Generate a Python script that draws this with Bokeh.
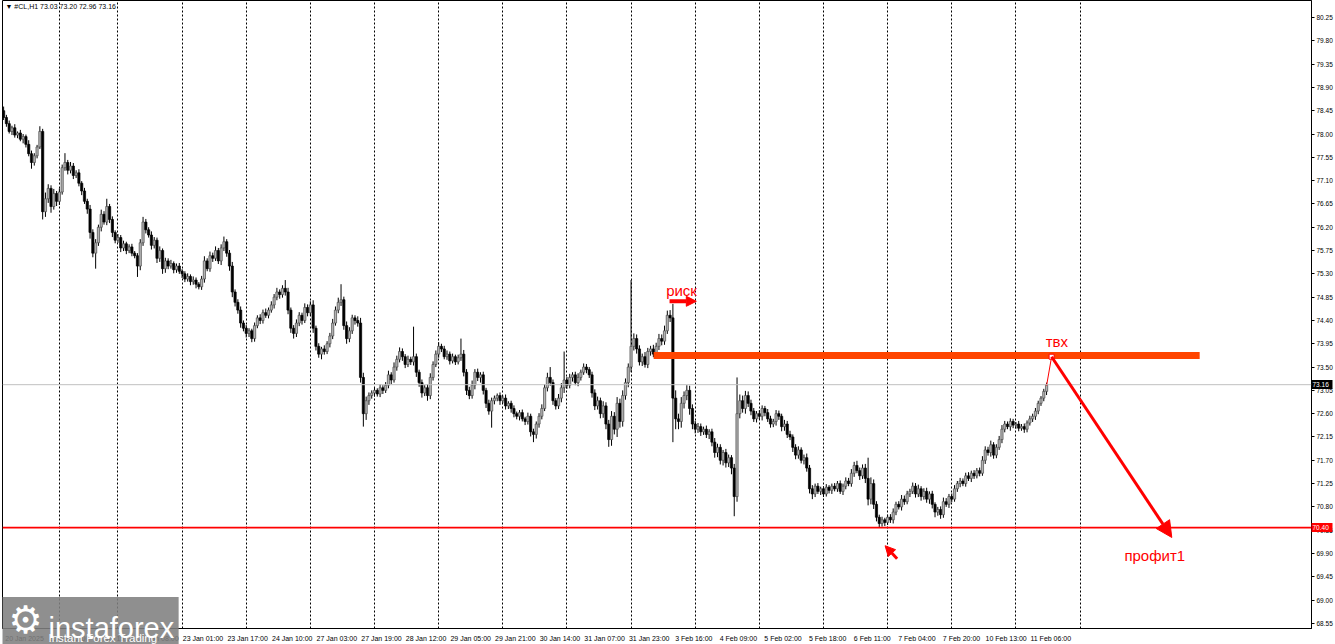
import numpy as np
from bokeh.plotting import figure
from bokeh.layouts import column
from bokeh.models import (ColumnDataSource, FixedTicker, Label, Arrow, NormalHead,
                          NumeralTickFormatter, Range1d, Span)
from bokeh.embed import file_html
from bokeh.resources import INLINE

# ---------------- data (H1 bars of #CL) ----------------
first_open = 78.45
closes = [
    78.32, 78.20, 78.05, 78.12, 77.98, 78.02, 77.90, 77.95, 77.80, 77.62, 77.45, 77.58, 77.75, 78.05, 76.50, 76.75, 76.95, 76.60, 76.85, 76.70, 76.88, 77.35, 77.45, 77.30, 77.38,
    77.20, 77.25, 77.05, 76.90, 76.70, 76.55, 76.10, 75.70, 75.90, 76.20, 76.45, 76.30, 76.60, 76.35, 76.10, 75.95, 76.00, 75.80, 75.88, 75.75, 75.82, 75.70, 75.65, 75.45, 75.90,
    76.30, 76.15, 76.05, 75.85, 75.95, 75.60, 75.75, 75.40, 75.55, 75.45, 75.50, 75.38, 75.45, 75.35, 75.30, 75.20, 75.25, 75.15, 75.18, 75.10, 75.05, 75.20, 75.55, 75.40, 75.65,
    75.60, 75.75, 75.55, 75.80, 75.92, 75.70, 75.45, 74.95, 74.75, 74.60, 74.35, 74.25, 74.15, 74.20, 74.05, 74.30, 74.45, 74.40, 74.55, 74.50, 74.60, 74.70, 74.85, 74.95, 74.90,
    75.02, 74.95, 74.60, 74.25, 74.15, 74.35, 74.50, 74.40, 74.65, 74.55, 74.70, 74.25, 73.90, 73.75, 73.85, 73.80, 73.95, 74.10, 74.35, 74.60, 74.75, 74.80, 74.30, 74.05, 74.20,
    74.45, 74.40, 74.35, 73.30, 72.60, 72.85, 72.95, 73.00, 73.05, 72.98, 73.10, 73.05, 73.15, 73.35, 73.25, 73.50, 73.65, 73.80, 73.70, 73.55, 73.65, 73.60, 73.70, 73.40, 73.20,
    73.00, 73.10, 72.95, 73.30, 73.55, 73.75, 73.90, 73.85, 73.70, 73.75, 73.62, 73.70, 73.60, 73.68, 73.75, 73.40, 73.05, 72.95, 73.15, 73.40, 73.30, 73.35, 73.05, 72.80, 72.65,
    72.85, 72.90, 72.95, 72.85, 72.90, 72.75, 72.80, 72.70, 72.60, 72.55, 72.62, 72.50, 72.45, 72.55, 72.25, 72.20, 72.40, 72.55, 72.70, 73.10, 73.30, 73.20, 72.85, 72.75, 72.90,
    73.10, 73.25, 73.15, 73.30, 73.35, 73.20, 73.30, 73.40, 73.50, 73.45, 73.35, 73.00, 72.75, 72.85, 72.60, 72.75, 72.40, 72.10, 72.55, 72.30, 72.80, 72.45, 72.95, 73.20, 73.50,
    73.90, 74.05, 73.85, 73.60, 73.70, 73.55, 73.80, 73.85, 73.75, 73.90, 74.05, 74.00, 74.20, 74.50, 74.45, 72.90, 72.50, 72.45, 72.80, 72.95, 73.05, 72.70, 72.40, 72.30, 72.35,
    72.25, 72.30, 72.20, 72.25, 72.05, 71.85, 71.95, 71.70, 71.85, 71.65, 71.75, 71.55, 71.00, 72.60, 72.85, 72.70, 72.95, 72.80, 72.65, 72.50, 72.60, 72.55, 72.70, 72.62, 72.50,
    72.40, 72.45, 72.60, 72.55, 72.35, 72.40, 72.20, 72.15, 71.95, 71.80, 71.90, 71.70, 71.75, 71.55, 71.15, 71.05, 71.20, 71.10, 71.15, 71.05, 71.18, 71.12, 71.20, 71.15, 71.25,
    71.10, 71.20, 71.30, 71.25, 71.45, 71.60, 71.50, 71.40, 71.55, 71.35, 70.95, 71.25, 70.85, 70.60, 70.48, 70.55, 70.50, 70.60, 70.55, 70.70, 70.85, 70.80, 70.95, 70.90, 71.05,
    71.10, 71.20, 71.05, 71.15, 71.00, 71.10, 70.95, 71.05, 70.85, 70.70, 70.75, 70.65, 70.90, 70.85, 71.00, 70.95, 71.15, 71.25, 71.30, 71.25, 71.40, 71.35, 71.45, 71.40, 71.50,
    71.45, 71.70, 71.90, 71.85, 72.00, 71.80, 71.95, 72.10, 72.30, 72.40, 72.35, 72.45, 72.38, 72.40, 72.32, 72.35, 72.30, 72.42, 72.50, 72.55, 72.65, 72.80, 72.90, 73.03, 73.16,
]
# wick lengths above / below the body, in cents
upper_wick_cents = [
    8, 5, 6, 4, 7, 3, 6, 5, 4, 8, 6, 5, 4, 10, 5, 12, 8, 6, 9, 5, 7, 6, 18, 5, 8,
    6, 5, 7, 4, 6, 5, 8, 6, 7, 5, 9, 6, 15, 5, 6, 4, 7, 5, 6, 4, 5, 6, 4, 5, 7,
    10, 6, 5, 7, 6, 5, 8, 4, 6, 5, 7, 4, 5, 6, 4, 5, 6, 4, 7, 5, 4, 6, 9, 5, 8,
    6, 8, 5, 7, 10, 5, 6, 8, 5, 6, 7, 5, 6, 5, 4, 6, 5, 7, 6, 8, 5, 7, 6, 8, 5,
    6, 16, 8, 5, 6, 7, 6, 5, 8, 6, 7, 9, 5, 6, 4, 7, 5, 6, 8, 7, 9, 30, 6, 8, 7,
    6, 5, 8, 10, 9, 8, 6, 5, 6, 4, 7, 5, 6, 8, 5, 9, 7, 8, 6, 5, 7, 5, 58, 6, 5,
    6, 5, 7, 8, 6, 7, 8, 5, 6, 7, 5, 6, 4, 6, 30, 8, 6, 7, 9, 6, 7, 5, 6, 5, 7,
    6, 5, 4, 6, 5, 7, 4, 5, 6, 4, 5, 6, 4, 7, 5, 6, 5, 6, 8, 7, 9, 20, 6, 5, 8,
    9, 55, 6, 7, 5, 6, 8, 5, 7, 6, 5, 6, 7, 8, 6, 9, 7, 8, 10, 8, 12, 9, 10, 8, 7,
    128, 10, 8, 7, 6, 9, 7, 6, 8, 7, 9, 8, 10, 9, 10, 27, 15, 10, 12, 8, 10, 9, 8, 6, 7,
    6, 5, 7, 5, 6, 8, 7, 6, 5, 7, 6, 5, 8, 70, 12, 10, 9, 8, 7, 6, 5, 7, 6, 5, 7,
    6, 5, 7, 6, 5, 8, 6, 7, 5, 6, 7, 5, 6, 8, 6, 7, 5, 6, 4, 5, 6, 4, 5, 6, 5,
    6, 5, 7, 6, 8, 7, 9, 6, 7, 8, 40, 12, 8, 6, 5, 6, 4, 5, 6, 7, 5, 6, 8, 7, 6,
    5, 7, 6, 8, 5, 6, 7, 5, 6, 4, 5, 6, 8, 7, 5, 6, 7, 5, 6, 5, 6, 7, 5, 6, 5,
    6, 8, 7, 6, 8, 5, 6, 7, 8, 6, 5, 6, 5, 4, 6, 5, 6, 5, 6, 5, 6, 5, 4, 5, 4,
]
lower_wick_cents = [
    5, 6, 4, 7, 5, 6, 4, 8, 6, 5, 12, 6, 5, 4, 15, 10, 8, 12, 6, 9, 7, 5, 6, 8, 6,
    7, 5, 6, 8, 5, 9, 12, 8, 30, 6, 8, 5, 6, 7, 9, 6, 5, 8, 6, 7, 5, 6, 5, 21, 8,
    6, 7, 5, 8, 6, 9, 7, 10, 8, 6, 5, 7, 6, 5, 8, 6, 5, 7, 6, 8, 5, 6, 7, 5, 6,
    7, 5, 6, 8, 6, 7, 9, 10, 8, 7, 9, 6, 8, 7, 7, 6, 5, 7, 6, 5, 6, 5, 7, 6, 8,
    6, 7, 8, 9, 10, 7, 6, 8, 5, 7, 6, 9, 8, 7, 10, 6, 5, 7, 6, 5, 6, 7, 8, 10, 7,
    6, 8, 7, 10, 25, 12, 8, 6, 7, 5, 6, 7, 5, 6, 8, 5, 7, 6, 8, 7, 5, 6, 7, 9, 8,
    9, 6, 10, 7, 6, 5, 7, 6, 5, 6, 7, 5, 6, 5, 6, 8, 9, 7, 6, 8, 7, 10, 8, 9, 7,
    32, 7, 6, 8, 5, 7, 6, 8, 7, 6, 8, 5, 7, 6, 9, 15, 8, 7, 6, 5, 7, 6, 8, 7, 6,
    8, 10, 7, 6, 8, 5, 7, 6, 5, 7, 6, 9, 8, 7, 9, 8, 10, 14, 12, 10, 15, 12, 10, 8, 9,
    10, 8, 9, 7, 8, 6, 7, 8, 6, 9, 7, 8, 7, 6, 8, 85, 20, 15, 12, 10, 9, 12, 10, 8, 7,
    8, 6, 7, 9, 8, 10, 9, 8, 10, 9, 8, 12, 38, 10, 9, 8, 10, 7, 8, 6, 7, 6, 8, 7, 6,
    7, 6, 8, 7, 9, 8, 7, 6, 9, 8, 7, 6, 8, 7, 9, 10, 6, 5, 7, 6, 5, 6, 7, 5, 6,
    5, 7, 6, 5, 6, 7, 5, 8, 6, 9, 12, 10, 9, 8, 8, 6, 7, 5, 6, 7, 6, 5, 7, 6, 5,
    6, 5, 7, 6, 8, 6, 7, 9, 8, 10, 7, 8, 6, 5, 7, 6, 5, 6, 7, 5, 6, 5, 7, 6, 5,
    6, 5, 7, 6, 8, 7, 6, 5, 7, 6, 5, 8, 6, 7, 6, 5, 7, 6, 5, 6, 7, 6, 5, 6, 7,
]

x_tick_bars = [0, 16, 32, 48, 64, 80, 96, 112, 128, 144, 160, 176, 192, 208, 224,
               240, 256, 272, 288, 304, 320, 336, 352, 368]
x_tick_labels = ["20 Jan 2025", "20 Jan 22:00", "21 Jan 15:00", "22 Jan 08:00",
                 "23 Jan 01:00", "23 Jan 17:00", "24 Jan 10:00", "27 Jan 03:00",
                 "27 Jan 19:00", "28 Jan 12:00", "29 Jan 05:00", "29 Jan 21:00",
                 "30 Jan 14:00", "31 Jan 07:00", "31 Jan 23:00", "3 Feb 16:00",
                 "4 Feb 09:00", "5 Feb 02:00", "5 Feb 18:00", "6 Feb 11:00",
                 "7 Feb 04:00", "7 Feb 20:00", "10 Feb 13:00", "11 Feb 06:00"]
day_start_bars = [20, 41, 64, 87, 110, 133, 156, 179, 202, 225, 248, 271, 294,
                  317, 340, 363, 386]
price_ticks = [68.55, 69.00, 69.45, 69.90, 70.35, 70.80, 71.25, 71.70, 72.15,
               72.60, 73.05, 73.50, 73.95, 74.40, 74.85, 75.30, 75.75, 76.20,
               76.65, 77.10, 77.55, 78.00, 78.45, 78.90, 79.35, 79.80, 80.25]

header_text = "\u25bc #CL,H1  73.03 73.20 72.96 73.16"
last_price = 73.16
support_level = 70.40

# drawn annotations (bar index, price)
entry_zone = dict(left=233.1, right=428.9, bottom=73.655, top=73.79)
entry_point = (375.8, 73.70)
entry_link_start = (374.0, 73.14)
target_point = (418.9, 70.21)
risk_arrow = dict(x0=238.8, x1=248.4, y=74.77)
low_arrow = dict(x0=320.4, y0=69.80, x1=316.1, y1=70.05)
risk_text = (243.1, 74.98, "риск")
entry_text = (377.7, 73.99, "твх")
profit_text = (412.8, 69.86, "профит1")

# ---------------- build candles ----------------
n = len(closes)
idx = np.arange(n)
c = np.array(closes)
o = np.array([first_open] + closes[:-1])
hi = np.maximum(o, c) + np.array(upper_wick_cents[:n]) / 100.0
lo = np.minimum(o, c) - np.array(lower_wick_cents[:n]) / 100.0
bull = c > o
src = ColumnDataSource(dict(
    x=idx, top=np.maximum(o, c), bottom=np.minimum(o, c), high=hi, low=lo,
    fill=np.where(bull, "#b4b4b4", "#000000"),
    line=np.where(bull, "#4a4a4a", "#000000"),
))

FONT = "Liberation Sans"
W, H = 1335, 644
BL, BR, BT, BB = 2, 22, 0, 16
x_start, x_end = -0.4, 469.0
y_start, y_end = 68.452, 80.578

p = figure(width=W, height=H, output_backend="svg", toolbar_location=None,
           x_range=Range1d(x_start, x_end), y_range=Range1d(y_start, y_end),
           y_axis_location="right", min_border_left=BL, min_border_right=BR,
           min_border_top=BT, min_border_bottom=BB, margin=(0, 0, 0, 0))
p.outline_line_color = "black"
p.background_fill_color = "white"
p.border_fill_color = "white"

# grid: dotted day separators only
p.ygrid.visible = False
p.xgrid.ticker = FixedTicker(ticks=day_start_bars)
p.xgrid.grid_line_color = "black"
p.xgrid.grid_line_dash = "2 2"
p.xgrid.grid_line_width = 1

# x axis (labels start right of each bar tick, as in the terminal)
label_shift = 7.5
xt = [b + label_shift for b in x_tick_bars]
p.xaxis.ticker = FixedTicker(ticks=xt)
p.xaxis.major_label_overrides = {t: lab for t, lab in zip(xt, x_tick_labels)}
p.xaxis.major_tick_line_color = None
p.xaxis.minor_tick_line_color = None
p.xaxis.axis_line_color = "black"
p.xaxis.major_label_text_font = FONT
p.xaxis.major_label_text_font_size = "7px"
p.xaxis.major_label_text_color = "black"
p.xaxis.major_label_standoff = 0

# y axis
p.yaxis.ticker = FixedTicker(ticks=price_ticks)
p.yaxis.formatter = NumeralTickFormatter(format="0.00")
p.yaxis.major_tick_in = 0
p.yaxis.major_tick_out = 3
p.yaxis.minor_tick_line_color = None
p.yaxis.axis_line_color = "black"
p.yaxis.major_label_text_font = FONT
p.yaxis.major_label_text_font_size = "6.5px"
p.yaxis.major_label_text_color = "black"
p.yaxis.major_label_standoff = 2

# current price line
p.add_layout(Span(location=last_price, dimension="width", line_color="#c0c0c0", line_width=1))

# candles
p.segment(x0="x", y0="low", x1="x", y1="high", source=src, line_color="black", line_width=1)
p.vbar(x="x", width=0.8, top="top", bottom="bottom", source=src,
       fill_color="fill", line_color="line", line_width=0.7)

# entry zone
p.quad(left=[entry_zone["left"]], right=[entry_zone["right"]],
       bottom=[entry_zone["bottom"]], top=[entry_zone["top"]],
       fill_color="#ff4500", line_color=None)

# support line
p.add_layout(Span(location=support_level, dimension="width", line_color="#ff0000", line_width=1.6))

# link from last candle to entry point
p.line([entry_link_start[0], entry_point[0]], [entry_link_start[1], entry_point[1]],
       line_color="#ff0000", line_width=1)
p.scatter([entry_point[0]], [entry_point[1]], marker="square", size=5,
          fill_color="white", line_color="#ff0000", line_width=1)

# arrows
p.add_layout(Arrow(end=NormalHead(size=16, fill_color="#ff0000", line_color="#ff0000"),
                   x_start=entry_point[0], y_start=entry_point[1],
                   x_end=target_point[0], y_end=target_point[1],
                   line_color="#ff0000", line_width=3))
p.add_layout(Arrow(end=NormalHead(size=10, fill_color="#ff0000", line_color="#ff0000"),
                   x_start=risk_arrow["x0"], y_start=risk_arrow["y"],
                   x_end=risk_arrow["x1"], y_end=risk_arrow["y"],
                   line_color="#ff0000", line_width=4))
p.add_layout(Arrow(end=NormalHead(size=10, fill_color="#ff0000", line_color="#ff0000"),
                   x_start=low_arrow["x0"], y_start=low_arrow["y0"],
                   x_end=low_arrow["x1"], y_end=low_arrow["y1"],
                   line_color="#ff0000", line_width=3))

# texts
for tx, ty, tt in (risk_text, entry_text, profit_text):
    p.add_layout(Label(x=tx, y=ty, text=tt, text_align="center", text_baseline="middle",
                       text_font=FONT, text_font_size="15px", text_color="#ff0000"))

p.add_layout(Label(x=x_start, y=y_end, x_offset=3, y_offset=-2, text=header_text,
                   text_align="left", text_baseline="top", text_font=FONT,
                   text_font_size="7px", text_color="black"))

# ---------------- transparent overlays on top of the chart ----------------
ppy = (H - BT - BB) / (y_end - y_start)
full_y = (y_start - BB / ppy, y_end + BT / ppy)


def overlay(with_axis=False):
    f = figure(width=W, height=H, output_backend="svg", toolbar_location=None,
               x_range=Range1d(0, W), y_range=Range1d(*full_y),
               x_axis_type=None, y_axis_type=("linear" if with_axis else None),
               y_axis_location="right", min_border=0, margin=(-H, 0, 0, 0))
    f.outline_line_color = None
    f.background_fill_color = None
    f.border_fill_color = None
    f.grid.visible = False
    return f


# watermark (canvas pixels, from the top-left corner)
ov = overlay()
ov.add_layout(Label(x=89, y=620.5, x_units="canvas", y_units="canvas", text=" ",
                    text_align="center", text_baseline="middle", text_font_size="1px",
                    background_fill_color="#7f7f7f", background_fill_alpha=0.88,
                    padding=(89, 89, 23, 24)))
ov.add_layout(Label(x=25, y=619, x_units="canvas", y_units="canvas", text="\u2699",
                    text_align="center", text_baseline="middle", text_font="DejaVu Sans",
                    text_font_size="38px", text_color="white"))
ov.add_layout(Label(x=48, y=627, x_units="canvas", y_units="canvas", text="instaforex",
                    text_align="left", text_baseline="alphabetic", text_font=FONT,
                    text_font_size="29px", text_color="white"))
ov.add_layout(Label(x=48, y=637.5, x_units="canvas", y_units="canvas",
                    text="Instant Forex Trading", text_align="left",
                    text_baseline="alphabetic", text_font=FONT,
                    text_font_size="11.5px", text_color="white"))

# price tags on the price axis: one single-tick axis each, the tick drawn as the tag box
tags = []
for price, bg in ((last_price, "black"), (support_level, "#ff0000")):
    t = overlay(with_axis=True)
    ax = t.yaxis[0]
    ax.ticker = FixedTicker(ticks=[price])
    ax.formatter = NumeralTickFormatter(format="0.00")
    ax.axis_line_color = None
    ax.minor_tick_line_color = None
    ax.major_tick_in = 0
    ax.major_tick_out = 21
    ax.major_tick_line_width = 9
    ax.major_tick_line_color = bg
    ax.major_label_standoff = -20
    ax.major_label_text_color = "white"
    ax.major_label_text_font = FONT
    ax.major_label_text_font_size = "6.5px"
    tags.append(t)

layout = column(p, ov, *tags, spacing=0)
open("out.html", "w").write(file_html(layout, INLINE))
